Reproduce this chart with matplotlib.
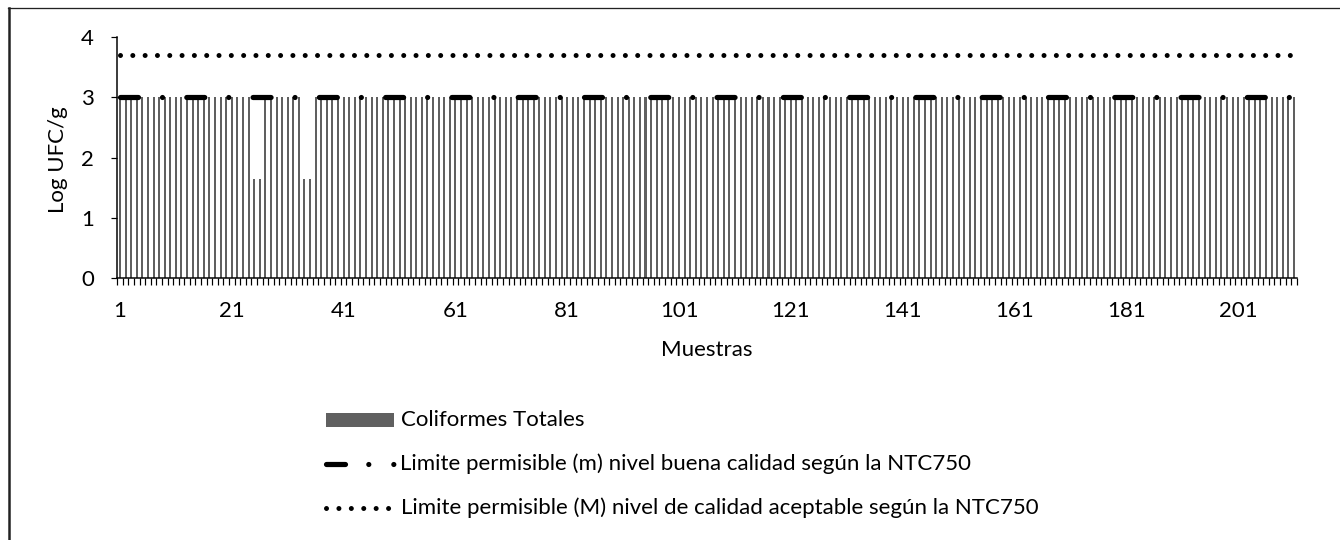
import matplotlib
matplotlib.use('Agg')
import matplotlib.pyplot as plt
import numpy as np
from matplotlib.lines import Line2D
from matplotlib.patches import Rectangle

# data (Log UFC/g per sample)
samples = list(range(1, 212))
coliformes = [
    3.0, 3.0, 3.0, 3.0, 3.0, 3.0, 3.0, 3.0, 3.0, 3.0,
    3.0, 3.0, 3.0, 3.0, 3.0, 3.0, 3.0, 3.0, 3.0, 3.0,
    3.0, 3.0, 3.0, 3.0, 1.65, 1.65, 3.0, 3.0, 3.0, 3.0,
    3.0, 3.0, 3.0, 1.65, 1.65, 3.0, 3.0, 3.0, 3.0, 3.0,
    3.0, 3.0, 3.0, 3.0, 3.0, 3.0, 3.0, 3.0, 3.0, 3.0,
    3.0, 3.0, 3.0, 3.0, 3.0, 3.0, 3.0, 3.0, 3.0, 3.0,
    3.0, 3.0, 3.0, 3.0, 3.0, 3.0, 3.0, 3.0, 3.0, 3.0,
    3.0, 3.0, 3.0, 3.0, 3.0, 3.0, 3.0, 3.0, 3.0, 3.0,
    3.0, 3.0, 3.0, 3.0, 3.0, 3.0, 3.0, 3.0, 3.0, 3.0,
    3.0, 3.0, 3.0, 3.0, 3.0, 3.0, 3.0, 3.0, 3.0, 3.0,
    3.0, 3.0, 3.0, 3.0, 3.0, 3.0, 3.0, 3.0, 3.0, 3.0,
    3.0, 3.0, 3.0, 3.0, 3.0, 3.0, 3.0, 3.0, 3.0, 3.0,
    3.0, 3.0, 3.0, 3.0, 3.0, 3.0, 3.0, 3.0, 3.0, 3.0,
    3.0, 3.0, 3.0, 3.0, 3.0, 3.0, 3.0, 3.0, 3.0, 3.0,
    3.0, 3.0, 3.0, 3.0, 3.0, 3.0, 3.0, 3.0, 3.0, 3.0,
    3.0, 3.0, 3.0, 3.0, 3.0, 3.0, 3.0, 3.0, 3.0, 3.0,
    3.0, 3.0, 3.0, 3.0, 3.0, 3.0, 3.0, 3.0, 3.0, 3.0,
    3.0, 3.0, 3.0, 3.0, 3.0, 3.0, 3.0, 3.0, 3.0, 3.0,
    3.0, 3.0, 3.0, 3.0, 3.0, 3.0, 3.0, 3.0, 3.0, 3.0,
    3.0, 3.0, 3.0, 3.0, 3.0, 3.0, 3.0, 3.0, 3.0, 3.0,
    3.0, 3.0, 3.0, 3.0, 3.0, 3.0, 3.0, 3.0, 3.0, 3.0,
    3.0,
]
limite_m = 3.0   # log10(1000)
limite_M = 3.7   # log10(5000)
xtick_labels = [1, 21, 41, 61, 81, 101, 121, 141, 161, 181, 201]

lbl_bars = 'Coliformes Totales'
lbl_m = 'Limite permisible (m) nivel buena calidad según la NTC750'
lbl_M = 'Limite permisible (M) nivel de calidad aceptable según la NTC750'

plt.rcParams['font.family'] = ['Lato', 'DejaVu Sans']
plt.rcParams['lines.scale_dashes'] = False
FS = 16

W, H = 1340, 540


def px(v):
    # pixels -> points at dpi 100
    return v * 72 / 100


def fx(x):
    return x / W


def fy(y):
    return 1 - y / H


fig = plt.figure(figsize=(13.4, 5.4), dpi=100)
ax = fig.add_axes([fx(117.2), fy(278.3), (1296.8 - 117.2) / W, (278.3 - 36.7) / H])

bar_color = '#606060'
ax.bar(samples, coliformes, width=0.36, color=bar_color, linewidth=0, zorder=1)

m_style = (0, (px(18), px(24), 0.01, px(24.27)))
ax.plot(samples, [limite_m] * len(samples), color='black', lw=px(5.2),
        linestyle=m_style, dash_capstyle='round', zorder=3)
M_style = (0, (0.01, px(12.3)))
ax.plot(samples, [limite_M] * len(samples), color='black', lw=px(5),
        linestyle=M_style, dash_capstyle='round', zorder=3)

ax.set_xlim(0.5, 211.5)
ax.set_ylim(0, 4)
ax.set_yticks([0, 1, 2, 3, 4])
ax.set_xticks(xtick_labels)
ax.set_xticks(np.arange(0.5, 212, 1), minor=True)
ax.tick_params(axis='x', which='major', length=0, pad=16, labelsize=FS)
ax.tick_params(axis='x', which='minor', length=px(6.7), width=px(1.2), color='black')
ax.tick_params(axis='y', length=px(6.5), width=px(1.2), pad=12, labelsize=FS)
for s in ['top', 'right']:
    ax.spines[s].set_visible(False)
for s in ['left', 'bottom']:
    ax.spines[s].set_linewidth(px(1.5))

fig.text(fx(58), fy(160), 'Log UFC/g', rotation=90, ha='center', va='center', fontsize=FS)
fig.text(fx(707), fy(350), 'Muestras', ha='center', va='center', fontsize=FS)

# legend, drawn by hand to match the reference layout
fig.add_artist(Rectangle((fx(326), fy(427)), 68 / W, 14 / H, transform=fig.transFigure,
                         color=bar_color, linewidth=0))
fig.add_artist(Line2D([fx(325.8), fx(393.5)], [fy(464)] * 2, transform=fig.transFigure,
                      color='black', lw=px(5.2), dash_capstyle='round',
                      linestyle=(0, (px(19), px(23.3), 0.01, px(25), 0.01, px(100)))))
fig.add_artist(Line2D([fx(326), fx(388.5)], [fy(508)] * 2, transform=fig.transFigure,
                      color='black', lw=px(5), dash_capstyle='round',
                      linestyle=(0, (0.01, px(12.4)))))
fig.text(fx(401), fy(420), lbl_bars, ha='left', va='center', fontsize=FS)
fig.text(fx(400), fy(464), lbl_m, ha='left', va='center', fontsize=FS)
fig.text(fx(401), fy(508), lbl_M, ha='left', va='center', fontsize=FS)

# chart frame (only left and top edges show in the reference)
fig.add_artist(Line2D([fx(8.5), fx(8.5)], [0, fy(8)], transform=fig.transFigure,
                      color='#222222', lw=px(2.5)))
fig.add_artist(Line2D([fx(8), 1], [fy(8), fy(8)], transform=fig.transFigure,
                      color='#222222', lw=px(1.3)))

fig.savefig('out.png', dpi=100)
